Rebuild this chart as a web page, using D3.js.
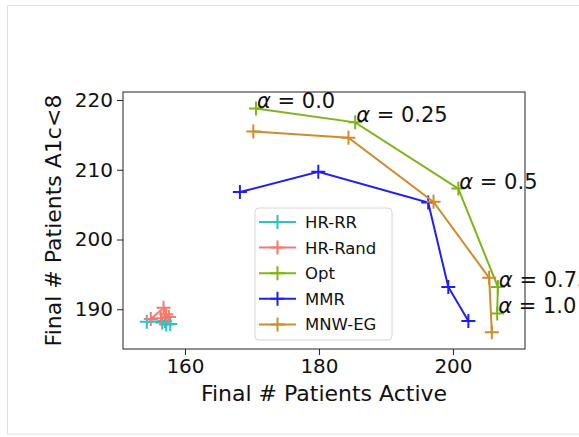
<!DOCTYPE html>
<html>
<head>
<meta charset="utf-8">
<script src="https://cdn.jsdelivr.net/npm/d3@7"></script>
<style>
  body { margin: 0; background: #fff; }
  svg { display: block; font-family: "DejaVu Sans", sans-serif; }
</style>
</head>
<body>
<svg id="chart" width="579" height="437"></svg>
<script>
// series values: [active, a1c<8]
var hrRR = [[154.3, 188.2], [157.0, 188.3], [157.8, 187.9], [157.2, 187.8], [156.6, 188.1]];
var hrRand = [[154.9, 188.6], [156.8, 190.2], [157.2, 189.3], [157.6, 188.9], [156.4, 188.7]];
var opt = [[170.6, 218.8], [185.4, 216.8], [200.8, 207.3], [206.7, 193.2], [206.6, 189.4]];
var mmr = [[168.2, 206.8], [179.9, 209.7], [196.3, 205.3], [199.3, 193.2], [202.3, 188.3]];
var mnw = [[170.2, 215.5], [184.4, 214.6], [197.1, 205.4], [205.4, 194.5], [205.8, 186.7]];

var seriesNames = ["HR-RR", "HR-Rand", "Opt", "MMR", "MNW-EG"];
var seriesColors = ["#2cc3c3", "#f7796e", "#7db51a", "#1f1ff2", "#cf8c2a"];
var alphaLabels = ["0.0", "0.25", "0.5", "0.75", "1.0"];
var xTicks = [160, 180, 200];
var yTicks = [190, 200, 210, 220];

var svg = d3.select("#chart");

// outer frame of the figure
svg.append("rect")
  .attr("x", 7.5).attr("y", 5.5)
  .attr("width", 600).attr("height", 428.5)
  .attr("fill", "none").attr("stroke", "#e0e0e0");

var pL = 123, pR = 525, pT = 92, pB = 349;

var x = d3.scaleLinear().domain([150.75, 210.75]).range([pL, pR]);
var y = d3.scaleLinear().domain([184.3, 221.15]).range([pB, pT]);

var xAxis = svg.append("g")
  .attr("transform", "translate(0," + pB + ")")
  .call(d3.axisBottom(x).tickValues(xTicks).tickSize(6).tickPadding(4));
var yAxis = svg.append("g")
  .attr("transform", "translate(" + pL + ",0)")
  .call(d3.axisLeft(y).tickValues(yTicks).tickSize(6).tickPadding(4));

[xAxis, yAxis].forEach(function (g) {
  g.select(".domain").remove();
  g.selectAll("line").attr("stroke", "#222").attr("stroke-width", 1);
  g.selectAll("text").attr("font-size", 20).attr("fill", "#111")
    .attr("font-family", "DejaVu Sans");
});

svg.append("rect")
  .attr("x", pL).attr("y", pT)
  .attr("width", pR - pL).attr("height", pB - pT)
  .attr("fill", "none").attr("stroke", "#222").attr("stroke-width", 1);

svg.append("text")
  .attr("x", (pL + pR) / 2).attr("y", 401)
  .attr("text-anchor", "middle").attr("font-size", 22).attr("fill", "#111")
  .text("Final # Patients Active");

svg.append("text")
  .attr("transform", "translate(61," + (pT + pB) / 2 + ") rotate(-90)")
  .attr("text-anchor", "middle").attr("font-size", 22).attr("fill", "#111")
  .text("Final # Patients A1c<8");

var line = d3.line().x(function (d) { return x(d[0]); }).y(function (d) { return y(d[1]); });

function plus(g, px, py, color, s) {
  g.append("path")
    .attr("d", "M" + (px - s) + "," + py + "H" + (px + s) + "M" + px + "," + (py - s) + "V" + (py + s))
    .attr("stroke", color).attr("stroke-width", 2).attr("fill", "none");
}

var allSeries = [hrRR, hrRand, opt, mmr, mnw];
var plot = svg.append("g");
allSeries.forEach(function (data, i) {
  plot.append("path").datum(data)
    .attr("d", line).attr("fill", "none")
    .attr("stroke", seriesColors[i]).attr("stroke-width", 2);
  data.forEach(function (d) {
    plus(plot, x(d[0]), y(d[1]), seriesColors[i], 7);
  });
});

// alpha annotations on the Opt points
opt.forEach(function (d, i) {
  var t = svg.append("text")
    .attr("x", x(d[0]) + 1).attr("y", y(d[1]))
    .attr("font-size", 21).attr("fill", "#111");
  t.append("tspan").attr("font-style", "italic").text("α");
  t.append("tspan").text(" = " + alphaLabels[i]);
});

// legend
var lg = svg.append("g").attr("transform", "translate(255,208)");
lg.append("rect")
  .attr("width", 137).attr("height", 132).attr("rx", 4)
  .attr("fill", "#fff").attr("fill-opacity", 0.8)
  .attr("stroke", "#d6d6d6");
seriesNames.forEach(function (name, i) {
  var yy = 14 + i * 25.6;
  lg.append("line")
    .attr("x1", 4).attr("x2", 41).attr("y1", yy).attr("y2", yy)
    .attr("stroke", seriesColors[i]).attr("stroke-width", 2);
  plus(lg, 22.5, yy, seriesColors[i], 7);
  lg.append("text")
    .attr("x", 50).attr("y", yy + 6)
    .attr("font-size", 16.5).attr("fill", "#111")
    .text(name);
});
</script>
</body>
</html>
